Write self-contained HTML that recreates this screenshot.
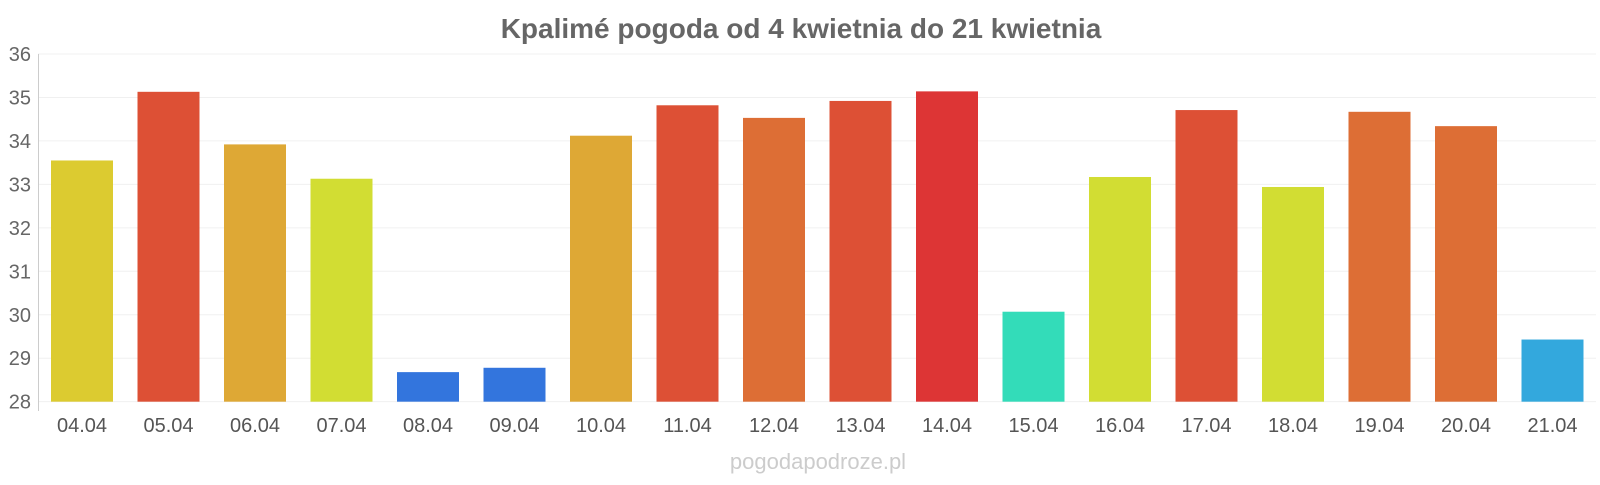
<!DOCTYPE html>
<html><head><meta charset="utf-8"><style>
body{margin:0;background:#fff;width:1600px;height:480px;overflow:hidden}
text{font-family:"Liberation Sans",sans-serif}
</style></head><body>
<svg width="1600" height="480" xmlns="http://www.w3.org/2000/svg">
<text x="801" y="38" text-anchor="middle" font-size="28" font-weight="bold" fill="#666">Kpalimé pogoda od 4 kwietnia do 21 kwietnia</text>
<g id="grid" stroke="#f0f0f0" stroke-width="1"></g>
<line x1="38.5" x2="38.5" y1="54" y2="411" stroke="#ccc"/>
<g id="ylab" font-size="20" fill="#666" text-anchor="end"></g>
<g id="bars"></g>
<g id="labels" font-size="20" fill="#555" text-anchor="middle"></g>
<text x="818" y="469" text-anchor="middle" font-size="22" fill="#ccc">pogodapodroze.pl</text>
</svg>
<script>
var ns="http://www.w3.org/2000/svg";
function Y(v){return 54+(36-v)*43.46;}
var g=document.getElementById("grid"),yl=document.getElementById("ylab");
for(var k=28;k<=36;k++){var ln=document.createElementNS(ns,"line");ln.setAttribute("x1",38);ln.setAttribute("x2",1596);ln.setAttribute("y1",Y(k));ln.setAttribute("y2",Y(k));g.appendChild(ln);
var t=document.createElementNS(ns,"text");t.setAttribute("x",31);t.setAttribute("y",Y(k)+7);t.textContent=k;yl.appendChild(t);}
var v=[33.55,35.13,33.92,33.13,28.68,28.78,34.12,34.82,34.53,34.92,35.14,30.07,33.17,34.71,32.94,34.67,34.34,29.43];
var c=["#dccb30","#dd5035","#dea835","#d2dd33","#3375dd","#3375dd","#dea835","#dd5035","#dd6e35","#dd5035","#dd3535","#33dcb9","#d2dd33","#dd5035","#d2dd33","#dd6e35","#dd6e35","#33a8dd"];
var b=document.getElementById("bars"),l=document.getElementById("labels");
for(var i=0;i<18;i++){var x=51+i*86.5,y=Y(v[i]);
var r=document.createElementNS(ns,"rect");r.setAttribute("x",x);r.setAttribute("y",y);r.setAttribute("width",62);r.setAttribute("height",Y(28)-y);r.setAttribute("fill",c[i]);b.appendChild(r);
var t=document.createElementNS(ns,"text");t.setAttribute("x",x+31);t.setAttribute("y",432);t.textContent=String(4+i).padStart(2,"0")+".04";l.appendChild(t);}
</script>
</body></html>
